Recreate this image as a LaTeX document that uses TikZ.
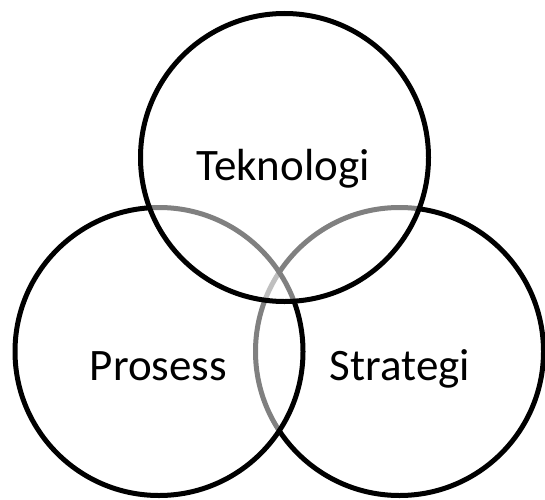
\documentclass[tikz,border=0pt]{standalone}
\usepackage{fontspec}
\setmainfont{Carlito}
\begin{document}
\begin{tikzpicture}[x=1pt,y=1pt,
  ring/.style={circle, draw=black, line width=5pt, fill=white, fill opacity=0.5, minimum size=288pt, inner sep=0pt, outer sep=0pt},
  lbl/.style={anchor=base, inner sep=0pt, font=\fontsize{45}{54}\selectfont}]
\useasboundingbox (0,0) rectangle (545,499);
\node[ring] (strategi) at (399.5,147.5) {};
\node[ring] (prosess) at (159,147.5) {};
\node[ring] (teknologi) at (284.5,341.5) {};
\node[lbl] (tT) at (283,319) {Teknologi};
\node[lbl] (tP) at (158.5,118.5) {Prosess};
\node[lbl] (tS) at (400,118.5) {Strategi};
\end{tikzpicture}
\end{document}
